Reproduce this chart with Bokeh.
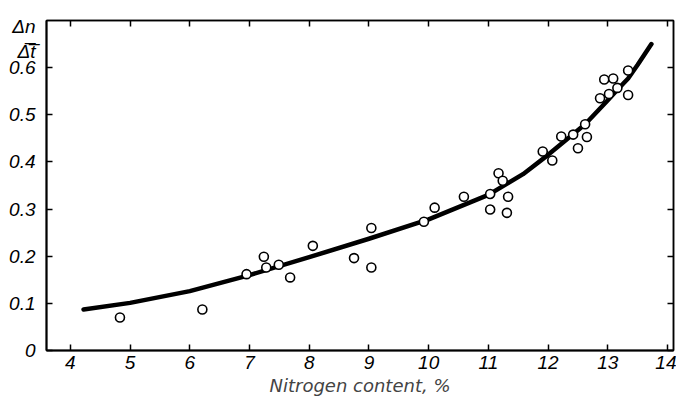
from bokeh.plotting import figure
from bokeh.models import FixedTicker, LinearAxis, Range1d
from bokeh.embed import file_html
from bokeh.resources import INLINE

# measured points: nitrogen content (%) vs rate dn/dt
nitrogen = [4.83, 6.21, 6.95, 7.24, 7.28, 7.49, 7.68, 8.06, 8.75, 9.04, 9.04,
            9.92, 10.10, 10.59, 11.03, 11.03, 11.17, 11.24, 11.33, 11.31,
            11.91, 12.07, 12.22, 12.42, 12.50, 12.62, 12.65, 12.87, 12.94,
            13.02, 13.09, 13.16, 13.34, 13.34]
rate = [0.070, 0.087, 0.162, 0.199, 0.176, 0.182, 0.155, 0.222, 0.196, 0.260, 0.176,
        0.273, 0.303, 0.326, 0.332, 0.299, 0.376, 0.360, 0.326, 0.292,
        0.422, 0.403, 0.454, 0.458, 0.429, 0.480, 0.453, 0.535, 0.575,
        0.544, 0.577, 0.557, 0.594, 0.542]

# fitted curve
curve_x = [4.22, 5.0, 6.0, 7.0, 8.0, 9.0, 10.0, 11.0, 11.58, 12.0, 12.62, 13.0, 13.16, 13.34, 13.5, 13.73]
curve_y = [0.087, 0.101, 0.126, 0.160, 0.198, 0.237, 0.278, 0.330, 0.374, 0.415, 0.480, 0.531, 0.553, 0.577, 0.606, 0.650]

x_ticks = [4, 5, 6, 7, 8, 9, 10, 11, 12, 13, 14]
y_ticks = [0, 0.1, 0.2, 0.3, 0.4, 0.5, 0.6]
y_labels = {0: "0", 0.1: "0.1", 0.2: "0.2", 0.3: "0.3", 0.4: "0.4", 0.5: "0.5", 0.6: "0.6"}
y_title = "Δn\nΔ\u0305t\u0305"
y_title_at = 0.66

FONT = "Liberation Sans"
LABEL_FONT = "DejaVu Sans"

p = figure(width=676, height=399, output_backend="svg", toolbar_location=None,
           x_range=Range1d(3.6, 14.1), y_range=Range1d(0, 0.7),
           min_border_left=46, min_border_right=3, min_border_top=20, min_border_bottom=49)
p.xgrid.visible = False
p.ygrid.visible = False
p.outline_line_color = "black"
p.outline_line_width = 1.5
p.background_fill_color = "white"
p.border_fill_color = "white"

p.line(curve_x, curve_y, line_width=4.5, line_color="black", line_cap="round", line_join="round")
p.scatter(nitrogen, rate, size=9, marker="circle", fill_color="white",
          line_color="black", line_width=1.6)

def frame_axis(ax, ticks, width):
    ax.ticker = FixedTicker(ticks=ticks)
    ax.major_tick_in = 6
    ax.major_tick_out = 0
    ax.minor_tick_line_color = None
    ax.axis_line_width = width
    ax.major_tick_line_width = 1.5

# bottom axis with labels
xa = p.xaxis[0]
frame_axis(xa, x_ticks, 2)
xa.major_label_text_font = FONT
xa.major_label_text_font_style = "italic"
xa.major_label_text_font_size = "19px"
xa.major_label_text_color = "black"
xa.major_label_standoff = 5
xa.axis_label = "Nitrogen content, %"
xa.axis_label_text_font = LABEL_FONT
xa.axis_label_text_font_style = "italic"
xa.axis_label_text_font_size = "18px"
xa.axis_label_standoff = 3

# left frame axis: line and ticks only
ya = p.yaxis[0]
frame_axis(ya, y_ticks, 2)
ya.major_label_text_font_size = "1px"
ya.major_label_text_color = None
ya.major_label_standoff = 0

# outer left axis: carries the labels and the fraction title
lab_ticks = y_ticks + [y_title_at]
lab_over = dict(y_labels)
lab_over[y_title_at] = y_title
ylab = LinearAxis(ticker=FixedTicker(ticks=lab_ticks), major_label_overrides=lab_over,
                  axis_line_color=None, major_tick_line_color=None, minor_tick_line_color=None,
                  major_tick_in=0, major_tick_out=0, major_label_standoff=11,
                  major_label_text_font=FONT, major_label_text_font_style="italic",
                  major_label_text_font_size="19px", major_label_text_color="black")
p.add_layout(ylab, "left")

top = LinearAxis()
frame_axis(top, x_ticks, 1.5)
top.major_label_text_font_size = "1px"
top.major_label_text_color = None
top.major_label_standoff = 0
right = LinearAxis()
frame_axis(right, y_ticks, 1.5)
right.major_label_text_font_size = "1px"
right.major_label_text_color = None
right.major_label_standoff = 0
p.add_layout(top, "above")
p.add_layout(right, "right")

html = file_html(p, INLINE)
open("out.html", "w").write(html)
